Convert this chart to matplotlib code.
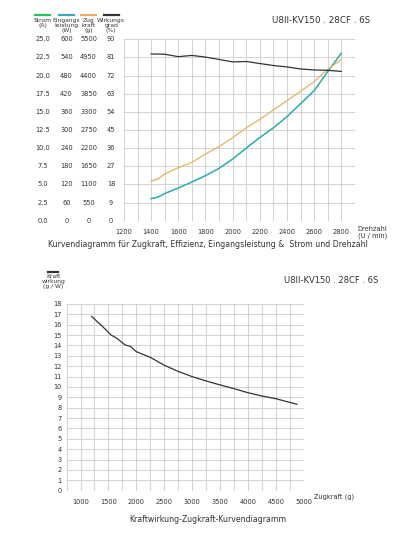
import numpy as np
import matplotlib
matplotlib.use('Agg')
import matplotlib.pyplot as plt
import matplotlib.transforms as mtransforms

# top chart data
rpm = [1400, 1450, 1500, 1600, 1700, 1800, 1900, 2000, 2100, 2200, 2300, 2400, 2500, 2600, 2700, 2800]
eff = [82.7, 82.7, 82.6, 81.4, 82.0, 81.2, 80.0, 78.8, 79.0, 78.0, 77.0, 76.3, 75.3, 74.8, 74.6, 74.1]
thrust = [1203, 1264, 1415, 1607, 1769, 2022, 2245, 2517, 2811, 3073, 3357, 3640, 3923, 4216, 4590, 4893]
power = [72.8, 78, 90, 108, 128, 149, 173, 204, 240, 275, 307, 344, 387, 430, 493, 554]
current = [p / 24 for p in power]

strom_ticks = ["0.0", "2.5", "5.0", "7.5", "10.0", "12.5", "15.0", "17.5", "20.0", "22.5", "25.0"]
leist_ticks = ["0", "60", "120", "180", "240", "300", "360", "420", "480", "540", "600"]
zug_ticks = ["0", "550", "1100", "1650", "2200", "2750", "3300", "3850", "4400", "4950", "5500"]
wirk_ticks = ["0", "9", "18", "27", "36", "45", "54", "63", "72", "81", "90"]

# bottom chart data
zugkraft = [1200, 1400, 1550, 1650, 1800, 1900, 2000, 2250, 2500, 2750, 3000, 3250, 3500, 3750, 4000, 4250, 4500, 4880]
kraftwirkung = [16.8, 15.8, 15.0, 14.7, 14.05, 13.9, 13.4, 12.86, 12.1, 11.5, 11.0, 10.58, 10.2, 9.84, 9.45, 9.13, 8.87, 8.33]

GREEN, BLUE, ORANGE, BLACK = '#22c55e', '#3aa9c0', '#e8b060', '#333333'
GRID = '#cccccc'
TXT = '#333333'
fs = 4.8
hfs = 4.3

fig = plt.figure(figsize=(4.16, 5.35), dpi=100)

# ---- top chart ----
ax = fig.add_axes([0.298, 0.5875, 0.555, 0.339])
ax.set_xlim(1200, 2900)
ax.set_ylim(0, 10)
sc = lambda vals, m: [v / m * 10 for v in vals]
ax.plot(rpm, sc(current, 25), color=GREEN, lw=0.9)
ax.plot(rpm, sc(power, 600), color=BLUE, lw=0.9)
ax.plot(rpm, sc(thrust, 5500), color=ORANGE, lw=0.9)
ax.plot(rpm, sc(eff, 90), color=BLACK, lw=0.9)
ax.set_xticks(np.arange(1200, 2901, 100), minor=True)
ax.set_xticks(np.arange(1200, 2801, 200))
ax.set_yticks(np.arange(0, 11, 1))
ax.set_yticklabels([])
ax.grid(True, which='both', color=GRID, lw=0.6)
ax.tick_params(which='both', length=0, labelsize=fs, colors=TXT)
ax.tick_params(axis='x', pad=6)
for s in ax.spines.values():
    s.set_visible(False)
ax.axhline(0, color='#999999', lw=0.6)

trans = mtransforms.blended_transform_factory(fig.transFigure, ax.transData)
cols = [(0.103, strom_ticks, GREEN, "Strom\n(A)"),
        (0.160, leist_ticks, BLUE, "Eingangs\nleistung\n(W)"),
        (0.213, zug_ticks, ORANGE, "Zug\nkraft\n(g)"),
        (0.267, wirk_ticks, BLACK, "Wirkungs\ngrad\n(%)")]
for x, labels, c, head in cols:
    for i, lab in enumerate(labels):
        ax.text(x, i, lab, transform=trans, ha='center', va='center', fontsize=fs, color=TXT)
    fig.add_artist(plt.Line2D([x - 0.018, x + 0.018], [0.972, 0.972], color=c, lw=1.6,
                              transform=fig.transFigure))
    fig.text(x, 0.966, head, ha='center', va='top', fontsize=hfs, color=TXT, linespacing=0.95)
fig.text(0.89, 0.962, "U8II-KV150 . 28CF . 6S", ha='right', va='center', fontsize=6.3, color=TXT)
fig.text(0.86, 0.578, "Drehzahl\n(U / min)", ha='left', va='top', fontsize=fs, color=TXT)
fig.text(0.5, 0.543, "Kurvendiagramm für Zugkraft, Effizienz, Eingangsleistung &  Strom und Drehzahl",
         ha='center', va='center', fontsize=5.6, color=TXT)

# ---- bottom chart ----
bx = fig.add_axes([0.160, 0.0828, 0.570, 0.349])
bx.plot(zugkraft, kraftwirkung, color=BLACK, lw=0.9)
bx.set_xlim(750, 5000)
bx.set_ylim(0, 18)
bx.set_xticks(np.arange(1000, 5001, 500))
bx.set_xticks(np.arange(750, 5001, 250), minor=True)
bx.set_yticks(np.arange(0, 19, 1))
bx.grid(True, which='both', color=GRID, lw=0.6)
bx.tick_params(which='both', length=0, labelsize=fs, colors=TXT)
bx.tick_params(axis='x', pad=6)
for s in bx.spines.values():
    s.set_visible(False)
bx.axhline(0, color='#999999', lw=0.6)
fig.add_artist(plt.Line2D([0.116, 0.14], [0.4915, 0.4915], color=BLACK, lw=1.6, transform=fig.transFigure))
fig.text(0.128, 0.487, "Kraft\nwirkung\n(g / W)", ha='center', va='top', fontsize=hfs, color=TXT, linespacing=0.95)
fig.text(0.91, 0.475, "U8II-KV150 . 28CF . 6S", ha='right', va='center', fontsize=6, color=TXT)
fig.text(0.755, 0.072, "Zugkraft (g)", ha='left', va='center', fontsize=fs, color=TXT)
fig.text(0.5, 0.0297, "Kraftwirkung-Zugkraft-Kurvendiagramm", ha='center', va='center', fontsize=5.6, color=TXT)

fig.savefig("out.png", dpi=100)
